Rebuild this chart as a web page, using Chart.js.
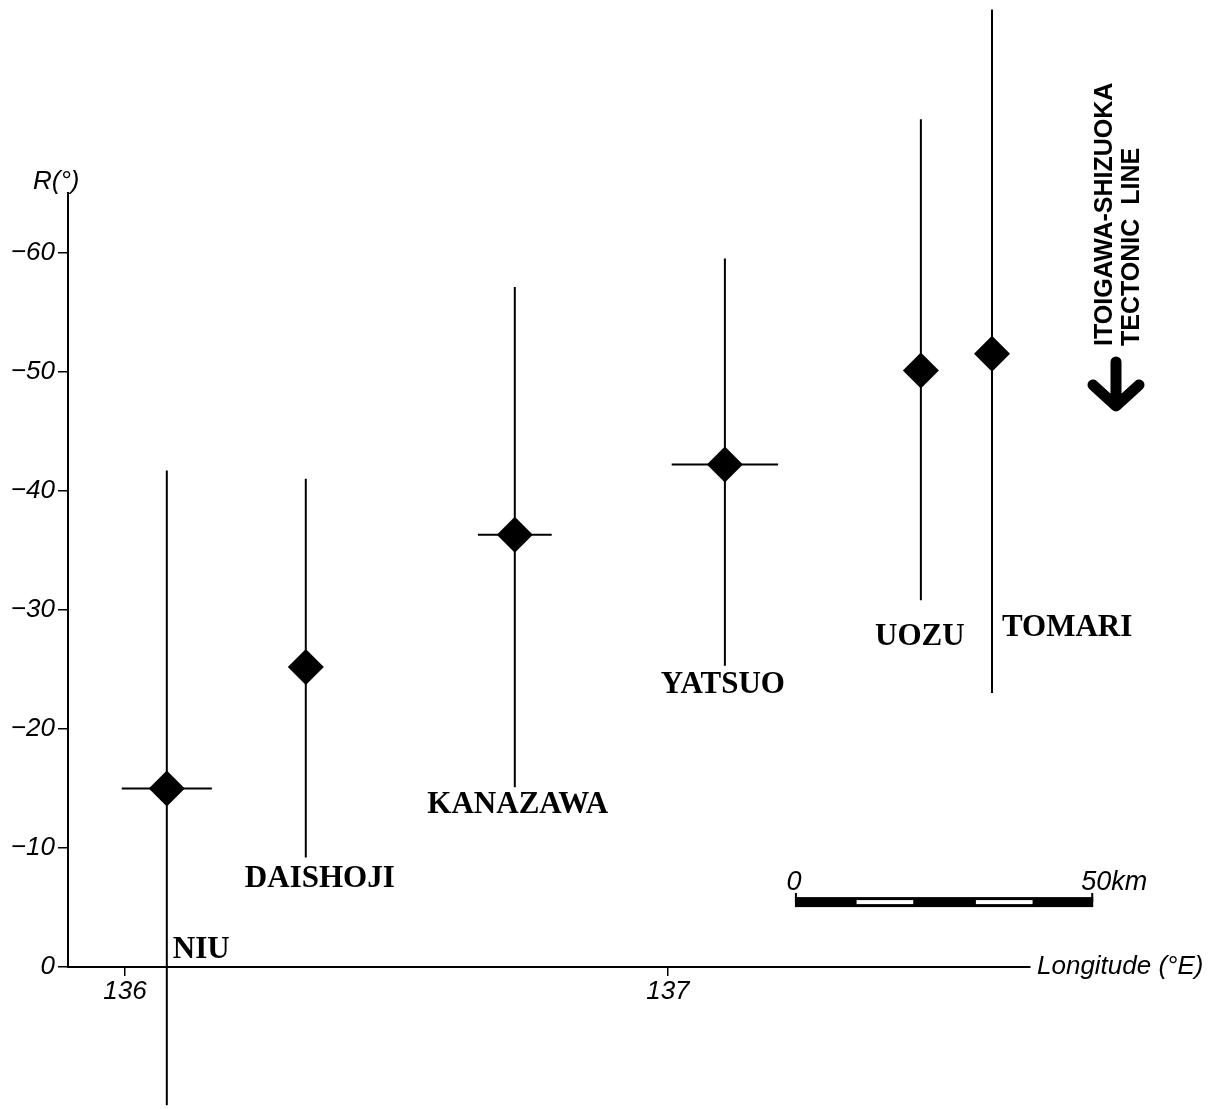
<!DOCTYPE html>
<html>
<head>
<meta charset="utf-8">
<title>R versus longitude</title>
<script src="https://cdn.jsdelivr.net/npm/chart.js@4.4.1/dist/chart.umd.min.js"></script>
<style>
  body { margin: 0; background: #fff; }
</style>
</head>
<body>
<canvas id="myChart" width="1217" height="1109"></canvas>
<script>
// sites, west to east
const stations = ['NIU', 'DAISHOJI', 'KANAZAWA', 'YATSUO', 'UOZU', 'TOMARI'];
const longitude = [136.077, 136.333, 136.718, 137.105, 137.466, 137.597];
const rMean = [-15.0, -25.2, -36.3, -42.2, -50.1, -51.5];
const rTop = [-41.7, -41.0, -57.1, -59.5, -71.2, -80.4];
const rBottom = [11.6, -9.2, -15.1, -25.3, -30.8, -23.0];
const lonErr = [0.083, null, 0.068, 0.098, null, null];
const yTicks = [-60, -50, -40, -30, -20, -10, 0];
const xTicks = [136, 137];

// where each site name sits (offset from its line, baseline in R units)
const labelLayout = [
  { dx: 6, r: -0.75, align: 'left' },
  { dx: 14, r: -6.7, align: 'center' },
  { dx: 3, r: -12.9, align: 'center' },
  { dx: -2, r: -23.0, align: 'center' },
  { dx: -1, r: -27.0, align: 'center' },
  { dx: 10, r: -27.8, align: 'left' }
];

// 50 km scale bar
const scaleBar = { lon: 137.234, r: -5.45, km: 50, kmPerDeg: 91 };

var ctx = document.getElementById('myChart').getContext('2d');
var sans = '"Liberation Sans", Arial, sans-serif';

var datasets = [{
  data: stations.map((s, i) => ({ x: longitude[i], y: rMean[i] })),
  pointStyle: 'rectRot',
  pointRadius: 18,
  pointHoverRadius: 18,
  backgroundColor: '#000',
  borderColor: '#000',
  borderWidth: 0,
  clip: false,
  order: 0
}];

stations.forEach((s, i) => {
  // R error bar
  datasets.push({
    data: [{ x: longitude[i], y: rTop[i] }, { x: longitude[i], y: rBottom[i] }],
    showLine: true,
    borderColor: '#000',
    borderWidth: 2,
    pointRadius: 0,
    clip: false,
    order: 1
  });
  // longitude error bar
  if (lonErr[i]) {
    datasets.push({
      data: [{ x: longitude[i] - lonErr[i], y: rMean[i] }, { x: longitude[i] + lonErr[i], y: rMean[i] }],
      showLine: true,
      borderColor: '#000',
      borderWidth: 2,
      pointRadius: 0,
      clip: false,
      order: 1
    });
  }
});

const annotations = {
  id: 'annotations',
  afterDraw(chart) {
    const { ctx, chartArea, scales: { x, y } } = chart;
    ctx.save();
    ctx.fillStyle = '#000';
    ctx.strokeStyle = '#000';

    // site names
    ctx.font = 'bold 31px "Liberation Serif", "Times New Roman", serif';
    ctx.textBaseline = 'alphabetic';
    stations.forEach((name, i) => {
      const lay = labelLayout[i];
      ctx.textAlign = lay.align;
      ctx.fillText(name, x.getPixelForValue(longitude[i]) + lay.dx, y.getPixelForValue(lay.r));
    });

    // axis titles
    ctx.font = 'italic 26px ' + sans;
    ctx.textAlign = 'left';
    ctx.fillText('R(°)', chartArea.left - 35, chartArea.top - 4);
    ctx.textBaseline = 'middle';
    ctx.fillText('Longitude (°E)', chartArea.right + 7, chartArea.bottom);

    // scale bar
    const x0 = x.getPixelForValue(scaleBar.lon);
    const x1 = x.getPixelForValue(scaleBar.lon + scaleBar.km / scaleBar.kmPerDeg);
    const yc = y.getPixelForValue(scaleBar.r);
    const seg = (x1 - x0) / 5;
    ctx.fillRect(x0, yc - 5, x1 - x0, 10);
    ctx.fillStyle = '#fff';
    [1, 3].forEach(k => ctx.fillRect(x0 + seg * k + 2, yc - 2, seg - 3, 4));
    ctx.fillStyle = '#000';
    ctx.lineWidth = 2;
    ctx.beginPath();
    ctx.moveTo(x0 + 1, yc - 9); ctx.lineTo(x0 + 1, yc);
    ctx.moveTo(x1 - 1, yc - 9); ctx.lineTo(x1 - 1, yc);
    ctx.stroke();
    ctx.font = 'italic 27px ' + sans;
    ctx.textBaseline = 'alphabetic';
    ctx.textAlign = 'center';
    ctx.fillText('0', x0 - 1, yc - 12);
    ctx.textAlign = 'left';
    ctx.fillText('50km', x1 - 12, yc - 12);

    // tectonic line marker
    const ax = chartArea.right + 86;
    ctx.save();
    ctx.translate(ax - 11, 346);
    ctx.rotate(-Math.PI / 2);
    ctx.font = 'bold 25px ' + sans;
    ctx.textAlign = 'left';
    ctx.textBaseline = 'middle';
    ctx.fillText('ITOIGAWA-SHIZUOKA', 0, 0, 266);
    ctx.fillText('TECTONIC  LINE', 0, 27, 200);
    ctx.restore();

    ctx.lineWidth = 11;
    ctx.lineCap = 'round';
    ctx.lineJoin = 'round';
    ctx.beginPath();
    ctx.moveTo(ax, 362);
    ctx.lineTo(ax, 404);
    ctx.moveTo(ax - 23, 385);
    ctx.lineTo(ax, 406);
    ctx.lineTo(ax + 23, 385);
    ctx.stroke();

    ctx.restore();
  }
};

var chart1 = new Chart(ctx, {
  type: 'scatter',
  data: { datasets: datasets },
  options: {
    responsive: false,
    animation: false,
    devicePixelRatio: 1,
    layout: { padding: { top: 193, right: 187, bottom: 102, left: 0 } },
    plugins: {
      legend: { display: false },
      tooltip: { enabled: false }
    },
    scales: {
      x: {
        type: 'linear',
        min: 135.895,
        max: 137.667,
        afterBuildTicks: s => { s.ticks = xTicks.map(v => ({ value: v })); },
        afterFit: s => { s.height = 40; },
        grid: { drawOnChartArea: false, tickLength: 9, color: '#000', lineWidth: 1.5 },
        border: { color: '#000', width: 2 },
        ticks: {
          color: '#000',
          padding: 0,
          maxRotation: 0,
          autoSkip: false,
          font: { family: sans, style: 'italic', size: 26 },
          callback: v => String(v)
        }
      },
      y: {
        type: 'linear',
        reverse: true,
        min: -65,
        max: 0,
        afterBuildTicks: s => { s.ticks = yTicks.map(v => ({ value: v })); },
        afterFit: s => { s.width = 68; },
        grid: { drawOnChartArea: false, tickLength: 10, color: '#000', lineWidth: 1.5 },
        border: { color: '#000', width: 2 },
        ticks: {
          color: '#000',
          padding: 3,
          font: { family: sans, style: 'italic', size: 26 },
          callback: v => v === 0 ? '0' : '\u2212' + Math.abs(v)
        }
      }
    }
  },
  plugins: [annotations]
});
</script>
</body>
</html>
